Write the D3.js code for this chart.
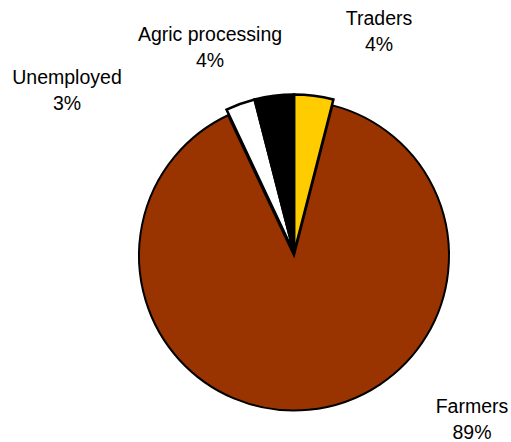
<!DOCTYPE html>
<html>
<head>
<meta charset="utf-8">
<script src="https://cdn.jsdelivr.net/npm/d3@7"></script>
<style>
  html, body { margin: 0; padding: 0; background: #fff; }
  svg { display: block; }
  text { font-family: "Liberation Sans", Arial, sans-serif; fill: #000; }
</style>
</head>
<body>
<svg id="chart" width="511" height="442"></svg>
<script>
// Occupation shares (percent), clockwise from 12 o'clock
const categories = ["Traders", "Farmers", "Unemployed", "Agric processing"];
const shares = [4, 89, 3, 4];
const colors = ["#FFCC00", "#993300", "#FFFFFF", "#000000"];

// Label anchors (centre of the first line) per category
const labelPos = {
  "Traders": [379, 25],
  "Farmers": [472, 413],
  "Unemployed": [67, 84],
  "Agric processing": [210, 41]
};

const svg = d3.select("#chart");
const cx = 294, cy = 254;

const pie = d3.pie().sort(null).value(d => d.value);
const data = categories.map((c, i) => ({ name: c, value: shares[i], color: colors[i] }));
const arcs = pie(data);

const bigArc = d3.arc().innerRadius(0).outerRadius(155);
const smallArc = d3.arc().innerRadius(0).outerRadius(158.5);

const g = svg.append("g").attr("transform", `translate(${cx},${cy})`);

// Large slice sits slightly lower than the narrow ones
g.selectAll("path.slice")
  .data(arcs)
  .join("path")
  .attr("class", "slice")
  .attr("transform", d => d.data.name === "Farmers" ? "translate(0,1.5)" : "translate(0,-1)")
  .attr("d", d => d.data.name === "Farmers" ? bigArc(d) : smallArc(d))
  .attr("fill", d => d.data.color)
  .attr("stroke", "#000")
  .attr("stroke-width", d => d.data.name === "Farmers" ? 2 : 2.5)
  .attr("stroke-linejoin", "miter");

// Category labels with percentages
const total = d3.sum(shares);
const lab = svg.selectAll("text.lbl")
  .data(arcs)
  .join("text")
  .attr("class", "lbl")
  .attr("text-anchor", "middle")
  .attr("font-size", 19.5)
  .attr("x", d => labelPos[d.data.name][0])
  .attr("y", d => labelPos[d.data.name][1]);
lab.append("tspan")
  .text(d => d.data.name);
lab.append("tspan")
  .attr("x", d => labelPos[d.data.name][0])
  .attr("dy", 25.5)
  .text(d => Math.round(d.data.value / total * 100) + "%");
</script>
</body>
</html>
